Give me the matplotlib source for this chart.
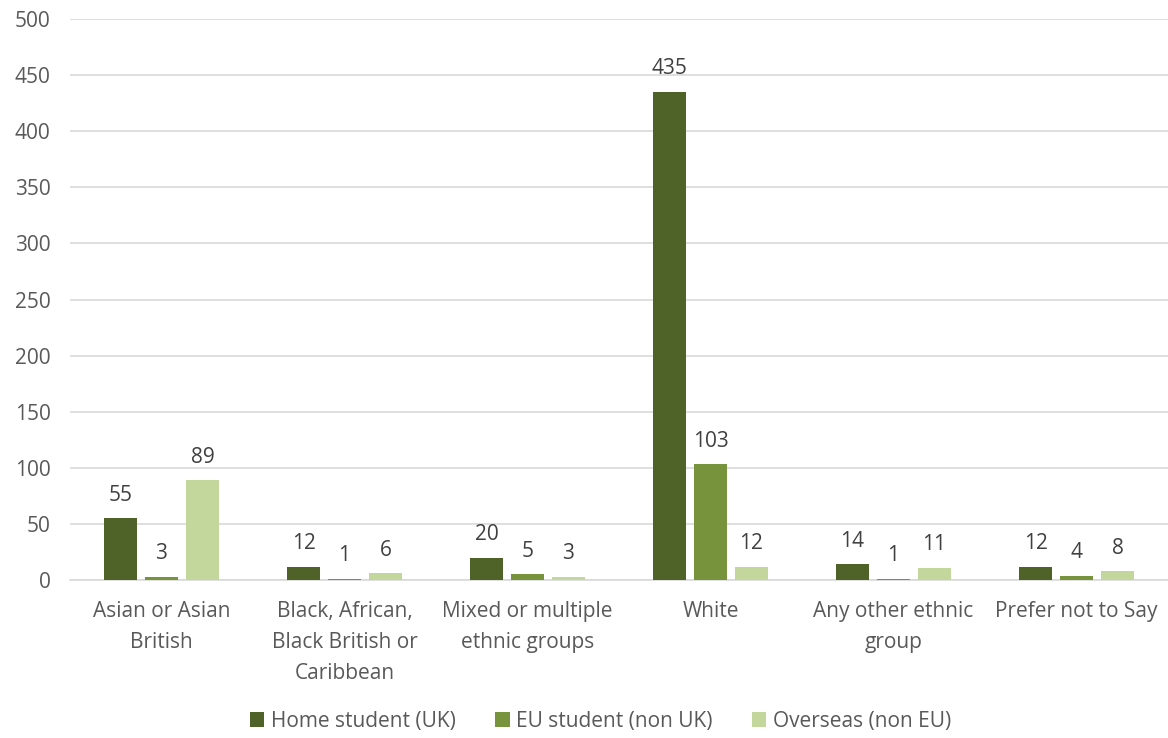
import matplotlib
matplotlib.use("Agg")
import matplotlib.pyplot as plt
import numpy as np

categories = [
    "Asian or Asian\nBritish",
    "Black, African,\nBlack British or\nCaribbean",
    "Mixed or multiple\nethnic groups",
    "White",
    "Any other ethnic\ngroup",
    "Prefer not to Say",
]
series_names = ["Home student (UK)", "EU student (non UK)", "Overseas (non EU)"]
home = [55, 12, 20, 435, 14, 12]
eu = [3, 1, 5, 103, 1, 4]
overseas = [89, 6, 3, 12, 11, 8]
y_ticks = [0, 50, 100, 150, 200, 250, 300, 350, 400, 450, 500]

colors = ["#4F6228", "#77933C", "#C3D69B"]
label_color = "#404040"
tick_color = "#595959"
fs = 15

plt.rcParams["font.family"] = ["Open Sans", "DejaVu Sans"]

fig = plt.figure(figsize=(11.68, 7.38), dpi=100)
ax = fig.add_axes([70 / 1168, 1 - 580 / 738, 1 - 70 / 1168, (580 - 19) / 738])

x = np.arange(len(categories))
bar_w = 0.175
step = 0.224
for i, (vals, name, c) in enumerate(zip([home, eu, overseas], series_names, colors)):
    pos = x + (i - 1) * step
    bars = ax.bar(pos, vals, width=bar_w, color=c, label=name, zorder=3)
    for b, v in zip(bars, vals):
        ax.annotate(str(v), (b.get_x() + b.get_width() / 2, v),
                    xytext=(0, 9), textcoords="offset points",
                    ha="center", va="bottom", fontsize=fs, color=label_color)

ax.set_xlim(-0.5, len(categories) - 0.5)
ax.set_ylim(0, 500)
ax.set_yticks(y_ticks)
ax.yaxis.grid(True, color="#D9D9D9", linewidth=1.2, zorder=0)
ax.set_xticks(x)
ax.set_xticklabels(categories, fontsize=fs, color=tick_color, linespacing=1.62)
ax.tick_params(axis="y", labelsize=fs, labelcolor=tick_color, length=0, pad=14)
ax.tick_params(axis="x", length=0, pad=15)
for s in ["top", "right", "left"]:
    ax.spines[s].set_visible(False)
ax.spines["bottom"].set_color("#D9D9D9")
ax.spines["bottom"].set_linewidth(1.2)

fig.legend(loc="center", bbox_to_anchor=(0.514, 1 - 721 / 738), ncol=3,
           frameon=False, fontsize=fs, labelcolor=tick_color,
           handlelength=0.7, handleheight=0.7, handletextpad=0.3, columnspacing=1.9)

fig.savefig("out.png", dpi=100)
